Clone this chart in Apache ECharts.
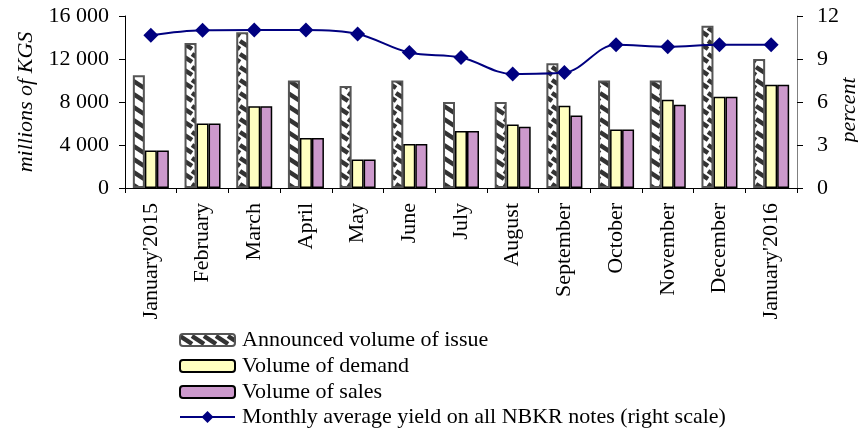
<!DOCTYPE html>
<html>
<head>
<meta charset="utf-8">
<script src="https://cdn.jsdelivr.net/npm/echarts@6/dist/echarts.min.js"></script>
<style>
  html, body { margin: 0; padding: 0; background: #fff; }
  #chart { width: 858px; height: 436px; }
</style>
</head>
<body>
<div id="chart"></div>
<script>
// data
var categories = ["January'2015", 'February', 'March', 'April', 'May', 'June', 'July',
  'August', 'September', 'October', 'November', 'December', "January'2016"];
var announced = [10500, 13500, 14500, 10000, 9500, 10000, 8000, 8000, 11600, 10000, 10000, 15100, 12000];
var demand = [3500, 6000, 7600, 4650, 2650, 4100, 5300, 5900, 7650, 5450, 8200, 8500, 9600];
var sales = [3500, 6000, 7600, 4650, 2650, 4100, 5300, 5700, 6750, 5450, 7750, 8500, 9600];
var yieldPct = [10.65, 11.0, 11.02, 11.02, 10.75, 9.45, 9.1, 7.95, 8.05, 10.0, 9.85, 10.0, 10.0];
var seriesNames = ['Announced volume of issue', 'Volume of demand', 'Volume of sales',
  'Monthly average yield on all NBKR notes (right scale)'];

var FONT = "'Liberation Serif', 'Times New Roman', serif";

// hatch pattern for the announced volume bars
function makeHatch() {
  var c = document.createElement('canvas');
  c.width = 12; c.height = 13;
  var ctx = c.getContext('2d');
  ctx.fillStyle = '#ffffff';
  ctx.fillRect(0, 0, 12, 13);
  ctx.strokeStyle = '#333333';
  ctx.lineWidth = 4.5;
  [-12, 0, 12].forEach(function (dx) {
    [-13, 0, 13].forEach(function (dy) {
      ctx.beginPath();
      ctx.moveTo(dx, dy + 2);
      ctx.lineTo(dx + 12, dy + 10);
      ctx.stroke();
    });
  });
  return c;
}

// one legend block per row, stacked under the chart
var legendTops = [329, 355, 381, 406];
var legendIconH = [12, 12, 12, 15];
var legends = seriesNames.map(function (name, i) {
  return {
    orient: 'vertical',
    left: 179,
    top: legendTops[i],
    padding: 0,
    itemWidth: 55,
    itemHeight: legendIconH[i],
    textStyle: { fontFamily: FONT, fontSize: 22, color: '#000', padding: [0, 0, 0, 2] },
    data: [name]
  };
});

var myChart = echarts.init(document.getElementById('chart'), null, { renderer: 'canvas' });

var option = {
  animation: false,
  textStyle: { fontFamily: FONT, color: '#000' },
  grid: { left: 125, right: 61, top: 16, bottom: 248, containLabel: false, outerBoundsMode: 'none' },
  legend: legends,
  // right axis title, placed by hand so it does not push the plot
  graphic: [{
    type: 'text',
    x: 849,
    y: 110,
    rotation: Math.PI / 2,
    style: {
      text: 'percent',
      font: 'italic 22px ' + FONT,
      fill: '#000',
      align: 'center',
      verticalAlign: 'middle'
    }
  }],
  xAxis: {
    type: 'category',
    data: categories,
    boundaryGap: true,
    axisLine: { lineStyle: { color: '#000', width: 1 } },
    axisTick: { show: true, length: 5, lineStyle: { color: '#000' } },
    axisLabel: {
      interval: 0, rotate: 90, margin: 15,
      fontFamily: FONT, fontSize: 22, color: '#000'
    }
  },
  yAxis: [
    {
      type: 'value',
      min: 0, max: 16000, interval: 4000,
      name: 'millions of KGS',
      nameLocation: 'middle',
      nameGap: 84,
      nameRotate: 90,
      nameTextStyle: { fontFamily: FONT, fontSize: 22, fontStyle: 'italic', color: '#000' },
      axisLine: { show: true, lineStyle: { color: '#000' } },
      axisTick: { show: true, length: 6, lineStyle: { color: '#000' } },
      splitLine: { show: false },
      axisLabel: {
        margin: 16, fontFamily: FONT, fontSize: 22, color: '#000',
        formatter: function (v) { return String(v).replace(/\B(?=(\d{3})+(?!\d))/g, ' '); }
      }
    },
    {
      type: 'value',
      min: 0, max: 12, interval: 3,
      position: 'right',
      axisLine: { show: true, lineStyle: { color: '#808080' } },
      axisTick: { show: true, length: 6, lineStyle: { color: '#000' } },
      splitLine: { show: false },
      axisLabel: { margin: 20, fontFamily: FONT, fontSize: 22, color: '#000' }
    }
  ],
  series: [
    {
      name: seriesNames[0],
      type: 'bar',
      data: announced,
      barWidth: 12,
      barGap: '0%',
      itemStyle: {
        color: { image: makeHatch(), repeat: 'repeat' },
        borderColor: '#555555',
        borderWidth: 2
      }
    },
    {
      name: seriesNames[1],
      type: 'bar',
      data: demand,
      barWidth: 12,
      barGap: '0%',
      itemStyle: { color: '#ffffc0', borderColor: '#000', borderWidth: 1.5 }
    },
    {
      name: seriesNames[2],
      type: 'bar',
      data: sales,
      barWidth: 12,
      barGap: '0%',
      itemStyle: { color: '#cc99cc', borderColor: '#000', borderWidth: 1.5 }
    },
    {
      name: seriesNames[3],
      type: 'line',
      yAxisIndex: 1,
      data: yieldPct,
      smooth: 0.35,
      symbol: 'diamond',
      symbolSize: 15,
      z: 5,
      lineStyle: { color: '#000080', width: 2 },
      itemStyle: { color: '#000080' }
    }
  ]
};

myChart.setOption(option);
window.onresize = myChart.resize;
</script>
</body>
</html>
